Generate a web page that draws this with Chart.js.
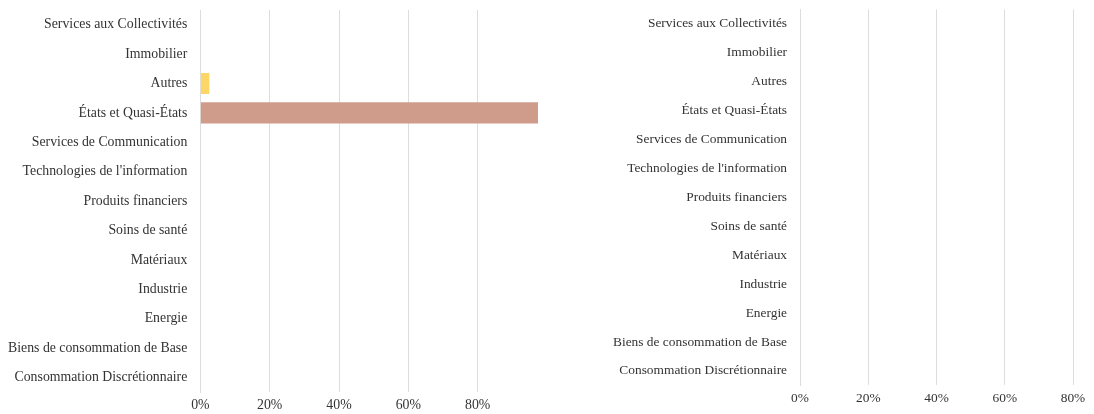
<!DOCTYPE html>
<html>
<head>
<meta charset="utf-8">
<script src="https://cdn.jsdelivr.net/npm/chart.js@4.4.0/dist/chart.umd.min.js"></script>
<style>
  html, body { margin: 0; padding: 0; background: #fff; }
  #wrap { position: relative; width: 1094px; height: 414px; }
  .box { position: absolute; top: 0; width: 547px; height: 414px; }
</style>
</head>
<body>
<div id="wrap">
  <div class="box" style="left:0"><canvas id="chartLeft"></canvas></div>
  <div class="box" style="left:547px"><canvas id="chartRight"></canvas></div>
</div>
<script>
// catégories (même ordre que l'image, de haut en bas)
let categories = [
  "Services aux Collectivités",
  "Immobilier",
  "Autres",
  "États et Quasi-États",
  "Services de Communication",
  "Technologies de l'information",
  "Produits financiers",
  "Soins de santé",
  "Matériaux",
  "Industrie",
  "Energie",
  "Biens de consommation de Base",
  "Consommation Discrétionnaire"
]
// valeurs en %
let leftValues = [0, 0, 2.6, 97.4, 0, 0, 0, 0, 0, 0, 0, 0, 0]
let rightValues = [0, 0, 0, 0, 0, 0, 0, 0, 0, 0, 0, 0, 0]
let barColors = ["#9fc5e8", "#b6d7a8", "#fcd767", "#cf9c8c", "#a4c2f4", "#d5a6bd",
                 "#b4a7d6", "#a2c4c9", "#f9cb9c", "#ea9999", "#ffe599", "#93c47d", "#6fa8dc"]
let tickValues = [0, 20, 40, 60, 80]

function makeChart(id, values, max, fontSize, pad) {
  const ctx = document.getElementById(id).getContext('2d')
  const font = { family: '"Liberation Serif", serif', size: fontSize, lineHeight: 1 }
  return new Chart(ctx, {
    type: 'bar',
    data: {
      labels: categories,
      datasets: [{
        data: values,
        backgroundColor: barColors,
        borderWidth: 0
      }]
    },
    options: {
      indexAxis: 'y',
      responsive: true,
      maintainAspectRatio: false,
      animation: false,
      layout: { padding: pad },
      plugins: { legend: { display: false }, tooltip: { enabled: false } },
      scales: {
        x: {
          min: 0,
          max: max,
          afterBuildTicks: (axis) => { axis.ticks = tickValues.map(v => ({ value: v })) },
          grid: { color: '#dddddd', drawTicks: false },
          border: { display: false },
          ticks: {
            padding: 6,
            color: '#333333',
            font: font,
            callback: (v) => v + '%'
          }
        },
        y: {
          grid: { display: false, drawTicks: true, tickLength: 12 },
          border: { display: true, color: '#dddddd' },
          ticks: {
            padding: 1,
            color: '#333333',
            font: font
          }
        }
      }
    }
  })
}

// on attend la police avant de mesurer les libellés
document.fonts.load('14px "Liberation Serif"').then(() => {
  makeChart('chartLeft', leftValues, Math.max(...leftValues), 13.8, { left: 7, right: 9, top: 10, bottom: -4 })
  makeChart('chartRight', rightValues, 80, 13.4, { left: 65, right: 21, top: 9.4, bottom: 3.2 })
})
</script>
</body>
</html>
